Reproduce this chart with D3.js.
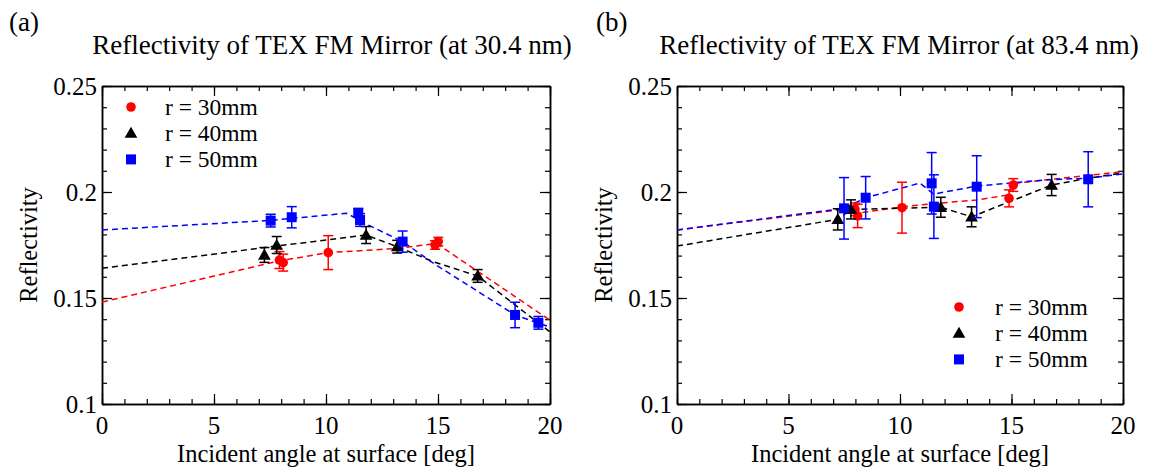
<!DOCTYPE html>
<html><head><meta charset="utf-8">
<script src="https://cdn.jsdelivr.net/npm/d3@7"></script>
<style>
html,body{margin:0;padding:0;background:#fff;}
svg{display:block;font-family:"Liberation Serif","Times New Roman",serif;}
</style></head>
<body><svg id="chart" width="1151" height="468"></svg>
<script>
// ---- data ----
const xTicks = [0, 5, 10, 15, 20];
const yTicks = [0.1, 0.15, 0.2, 0.25];
const yTickLabels = ["0.1", "0.15", "0.2", "0.25"];
const seriesNames = ["r = 30mm", "r = 40mm", "r = 50mm"];
const seriesColors = ["#ff0000", "#000000", "#0000ff"];
const titles = ["Reflectivity of TEX FM Mirror (at 30.4 nm)", "Reflectivity of TEX FM Mirror (at 83.4 nm)"];
const panelTags = ["(a)", "(b)"];
const xLabel = "Incident angle at surface [deg]";
const yLabel = "Reflectivity";

// panel (a) 30.4 nm : [angle, reflectivity, error]
const a30 = [[7.92,0.1679,0.004],[8.09,0.1667,0.004],[10.10,0.1714,0.008],[14.87,0.1750,0.002],[15.01,0.1766,0.002]];
const a40 = [[7.25,0.1703,0.0035],[7.80,0.1750,0.004],[11.79,0.1797,0.004],[13.18,0.1742,0.003],[16.77,0.1604,0.003]];
const a50 = [[7.53,0.1865,0.003],[8.47,0.1881,0.005],[11.44,0.1902,0.002],[11.52,0.1868,0.003],[13.42,0.1766,0.005],[18.44,0.1420,0.006],[19.48,0.1383,0.003]];
const a30Line = [[0,0.1481],[7.92,0.1675],[10.10,0.1714],[13.16,0.1734],[14.94,0.1757],[20,0.1395]];
const a40Line = [[0,0.1640],[7.80,0.1745],[11.79,0.1797],[13.18,0.1742],[14.79,0.1671],[16.77,0.1604],[20,0.1340]];
const a50Line = [[0,0.1821],[7.53,0.1866],[10.92,0.1900],[11.89,0.1844],[13.42,0.1766],[14.79,0.1664],[18.44,0.1420],[20,0.1363]];

// panel (b) 83.4 nm
const b30 = [[7.98,0.1918,0.003],[8.10,0.1887,0.0055],[10.09,0.1926,0.012],[14.89,0.1970,0.004],[15.08,0.2033,0.003]];
const b40 = [[7.21,0.1871,0.005],[7.80,0.1918,0.0045],[11.83,0.1928,0.0047],[13.21,0.1883,0.0047],[16.80,0.2033,0.005]];
const b50 = [[7.49,0.1923,0.0145],[8.46,0.1973,0.010],[11.42,0.2041,0.0145],[11.52,0.1931,0.015],[13.44,0.2025,0.0146],[18.44,0.2060,0.013]];
const b30Line = [[0,0.1821],[7.98,0.1925],[8.10,0.1900],[10.09,0.1930],[11.50,0.1945],[13.40,0.1962],[14.80,0.1985],[15.08,0.2040],[16.80,0.2060],[20,0.2096]];
const b40Line = [[0,0.1745],[7.21,0.1871],[7.80,0.1918],[11.83,0.1928],[13.21,0.1883],[16.80,0.2033],[18.44,0.2065],[20,0.2090]];
const b50Line = [[0,0.1821],[7.49,0.1923],[8.46,0.1973],[10.90,0.2042],[11.50,0.1990],[13.44,0.2028],[16.50,0.2057],[18.44,0.2065],[20,0.2085]];

const panels = [
  {left:102, right:550, top:86, bottom:404, pts:[a30,a40,a50], lines:[a30Line,a40Line,a50Line],
   tagX:9, tagY:31, titleX:332, titleY:54, yLabX:37, legX:131, legY:107, legGap:26.2, legTextX:165},
  {left:677, right:1123, top:86, bottom:404, pts:[b30,b40,b50], lines:[b30Line,b40Line,b50Line],
   tagX:596, tagY:31, titleX:899, titleY:54, yLabX:612, legX:959, legY:307, legGap:26.2, legTextX:995}
];

const svg = d3.select("#chart");

function marker(g, kind, x, y, color){
  if(kind===0){
    g.append("circle").attr("cx",x).attr("cy",y).attr("r",4.8).attr("fill",color);
  } else if(kind===1){
    g.append("path").attr("d",d3.symbol(d3.symbolTriangle,70)()).attr("transform",`translate(${x},${y+1})`).attr("fill",color);
  } else {
    g.append("rect").attr("x",x-5).attr("y",y-5).attr("width",10).attr("height",10).attr("fill",color);
  }
}

panels.forEach((p, pi) => {
  const x = d3.scaleLinear().domain([0,20]).range([p.left,p.right]);
  const y = d3.scaleLinear().domain([0.1,0.25]).range([p.bottom,p.top]);
  const g = svg.append("g");

  // tag and title
  g.append("text").attr("x",p.tagX).attr("y",p.tagY).attr("font-size",27).text(panelTags[pi]);
  g.append("text").attr("x",p.titleX).attr("y",p.titleY).attr("text-anchor","middle").attr("font-size",27).text(titles[pi]);

  // axes: inside ticks on all four sides
  const minorX = d3.range(0,21,1), minorY = d3.range(0.1,0.2501,0.01);
  const axes = [
    [d3.axisBottom, x, `translate(0,${p.bottom})`],
    [d3.axisTop, x, `translate(0,${p.top})`],
    [d3.axisLeft, y, `translate(${p.left},0)`],
    [d3.axisRight, y, `translate(${p.right},0)`]
  ];
  axes.forEach(([ax, sc, tr], i) => {
    const isX = i < 2;
    const minor = isX ? minorX : minorY;
    const major = isX ? xTicks : yTicks;
    const ga = g.append("g").attr("transform", tr)
      .call(ax(sc).tickValues(minor).tickSize(-5).tickFormat("").tickSizeOuter(0));
    ga.append("g").call(ax(sc).tickValues(major).tickSize(-10).tickFormat("").tickSizeOuter(0));
    ga.selectAll("path.domain").attr("stroke","#000").attr("stroke-width",1.5);
    ga.selectAll("line").attr("stroke","#000").attr("stroke-width",1.2);
  });

  // tick labels
  g.selectAll(".xl").data(xTicks).enter().append("text")
    .attr("x",d=>x(d)).attr("y",p.bottom+30).attr("text-anchor","middle").attr("font-size",25).text(d=>d);
  g.selectAll(".yl").data(yTicks).enter().append("text")
    .attr("x",p.left-5).attr("y",d=>y(d)+9).attr("text-anchor","end").attr("font-size",25)
    .text((d,i)=>yTickLabels[i]);

  // axis labels
  g.append("text").attr("x",(p.left+p.right)/2).attr("y",p.bottom+58).attr("text-anchor","middle")
    .attr("font-size",24.5).text(xLabel);
  g.append("text").attr("transform",`translate(${p.yLabX},${(p.top+p.bottom)/2}) rotate(-90)`)
    .attr("text-anchor","middle").attr("font-size",24.5).text(yLabel);

  // dashed model lines
  const line = d3.line().x(d=>x(d[0])).y(d=>y(d[1]));
  p.lines.forEach((ld, si) => {
    g.append("path").attr("d",line(ld)).attr("fill","none").attr("stroke",seriesColors[si])
      .attr("stroke-width",1.5).attr("stroke-dasharray","6,4");
  });

  // data points with error bars
  p.pts.forEach((pts, si) => {
    const c = seriesColors[si];
    const gs = g.append("g");
    pts.forEach(d => {
      const cx = x(d[0]), y1 = y(d[1]+d[2]), y2 = y(d[1]-d[2]);
      gs.append("line").attr("x1",cx).attr("x2",cx).attr("y1",y1).attr("y2",y2).attr("stroke",c).attr("stroke-width",1.5);
      gs.append("line").attr("x1",cx-5).attr("x2",cx+5).attr("y1",y1).attr("y2",y1).attr("stroke",c).attr("stroke-width",1.5);
      gs.append("line").attr("x1",cx-5).attr("x2",cx+5).attr("y1",y2).attr("y2",y2).attr("stroke",c).attr("stroke-width",1.5);
      marker(gs, si, cx, y(d[1]), c);
    });
  });

  // legend
  seriesNames.forEach((nm, si) => {
    const ly = p.legY + si*p.legGap;
    marker(g, si, p.legX, ly, seriesColors[si]);
    g.append("text").attr("x",p.legTextX).attr("y",ly+8).attr("font-size",23.5).text(nm);
  });
});
</script></body></html>
